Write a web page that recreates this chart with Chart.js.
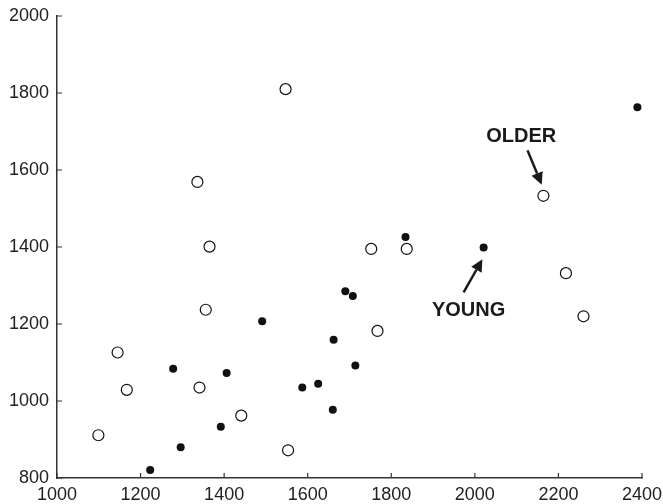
<!DOCTYPE html>
<html>
<head>
<meta charset="utf-8">
<script src="https://cdn.jsdelivr.net/npm/chart.js@4"></script>
<style>
  html, body { margin: 0; padding: 0; background: #fff; }
  #wrap { width: 663px; height: 504px; }
</style>
</head>
<body>
<div id="wrap"><canvas id="scatter"></canvas></div>
<script>
// valores
const olderX = [1547, 1336, 1365, 1356, 1145, 1167, 1099, 1341, 1441, 1553, 1752, 1837, 2164, 2218, 2260, 1767];
const olderY = [1810, 1569, 1401, 1237, 1126, 1029, 911, 1035, 962, 872, 1395, 1395, 1533, 1332, 1220, 1182];
const youngX = [2389, 1834, 2021, 1491, 1662, 1278, 1406, 1587, 1625, 1660, 1392, 1296, 1223, 1690, 1708, 1714];
const youngY = [1763, 1426, 1399, 1207, 1159, 1084, 1073, 1035, 1045, 977, 933, 880, 821, 1285, 1273, 1092];
const xTicks = [1000, 1200, 1400, 1600, 1800, 2000, 2200, 2400];
const yTicks = [800, 1000, 1200, 1400, 1600, 1800, 2000];

// anotações (texto + seta, em unidades dos eixos)
const labels = ["OLDER", "YOUNG"];
const labelPos = [[2111, 1686], [1985, 1235]];
const arrowFrom = [[2126, 1651], [1973, 1282]];
const arrowTo = [[2160, 1562], [2018, 1368]];

const toPoints = (xs, ys) => xs.map((x, i) => ({ x: x, y: ys[i] }));

// ticks curtos para dentro + setas
const extras = {
  id: "extras",
  afterDraw(chart) {
    const ctx = chart.ctx;
    const sx = chart.scales.x, sy = chart.scales.y;
    const a = chart.chartArea;
    ctx.save();
    ctx.strokeStyle = "#333";
    ctx.lineWidth = 1.2;
    ctx.beginPath();
    xTicks.forEach(v => {
      const p = sx.getPixelForValue(v);
      ctx.moveTo(p, a.bottom);
      ctx.lineTo(p, a.bottom - 5);
    });
    yTicks.forEach(v => {
      const p = sy.getPixelForValue(v);
      ctx.moveTo(a.left, p);
      ctx.lineTo(a.left + 5, p);
    });
    ctx.stroke();

    ctx.fillStyle = "#1a1a1a";
    ctx.font = "bold 20px 'Liberation Sans', Arial, sans-serif";
    ctx.textAlign = "center";
    ctx.textBaseline = "middle";
    labels.forEach((t, i) => {
      ctx.fillText(t, sx.getPixelForValue(labelPos[i][0]), sy.getPixelForValue(labelPos[i][1]));
    });

    ctx.strokeStyle = "#1a1a1a";
    ctx.lineWidth = 2.5;
    arrowFrom.forEach((f, i) => {
      const x0 = sx.getPixelForValue(f[0]), y0 = sy.getPixelForValue(f[1]);
      const x1 = sx.getPixelForValue(arrowTo[i][0]), y1 = sy.getPixelForValue(arrowTo[i][1]);
      const ang = Math.atan2(y1 - y0, x1 - x0);
      const hl = 12, hw = 6;
      const bx = x1 - hl * Math.cos(ang), by = y1 - hl * Math.sin(ang);
      ctx.beginPath();
      ctx.moveTo(x0, y0);
      ctx.lineTo(bx, by);
      ctx.stroke();
      ctx.beginPath();
      ctx.moveTo(x1, y1);
      ctx.lineTo(bx + hw * Math.sin(ang), by - hw * Math.cos(ang));
      ctx.lineTo(bx - hw * Math.sin(ang), by + hw * Math.cos(ang));
      ctx.closePath();
      ctx.fill();
    });
    ctx.restore();
  }
};

const tickFont = { family: "'Liberation Sans', Arial, sans-serif", size: 18 };

new Chart(document.getElementById("scatter"), {
  type: "scatter",
  data: {
    datasets: [
      {
        label: "Older",
        data: toPoints(olderX, olderY),
        pointRadius: 5.5,
        pointBackgroundColor: "#fff",
        pointBorderColor: "#111",
        pointBorderWidth: 1.2
      },
      {
        label: "Young",
        data: toPoints(youngX, youngY),
        pointRadius: 4,
        pointBackgroundColor: "#111",
        pointBorderColor: "#111",
        pointBorderWidth: 0
      }
    ]
  },
  options: {
    responsive: true,
    maintainAspectRatio: false,
    animation: false,
    layout: { padding: { top: 16, right: 21, left: 0, bottom: 0 } },
    plugins: { legend: { display: false }, tooltip: { enabled: false } },
    scales: {
      x: {
        type: "linear",
        min: 1000,
        max: 2400,
        afterBuildTicks: s => { s.ticks = xTicks.map(v => ({ value: v })); },
        afterFit: s => { s.height = 26; s.paddingRight = 0; s.paddingLeft = 0; },
        grid: { display: false, drawTicks: false },
        border: { display: true, color: "#333", width: 1.5 },
        ticks: { padding: 6, color: "#222", font: tickFont, callback: v => String(v) }
      },
      y: {
        type: "linear",
        min: 800,
        max: 2000,
        afterBuildTicks: s => { s.ticks = yTicks.map(v => ({ value: v })); },
        afterFit: s => { s.width = 57; s.paddingTop = 0; s.paddingBottom = 0; },
        grid: { display: false, drawTicks: false },
        border: { display: true, color: "#333", width: 1.5 },
        ticks: { padding: 8, color: "#222", font: tickFont, callback: v => String(v) }
      }
    }
  },
  plugins: [extras]
});
</script>
</body>
</html>
